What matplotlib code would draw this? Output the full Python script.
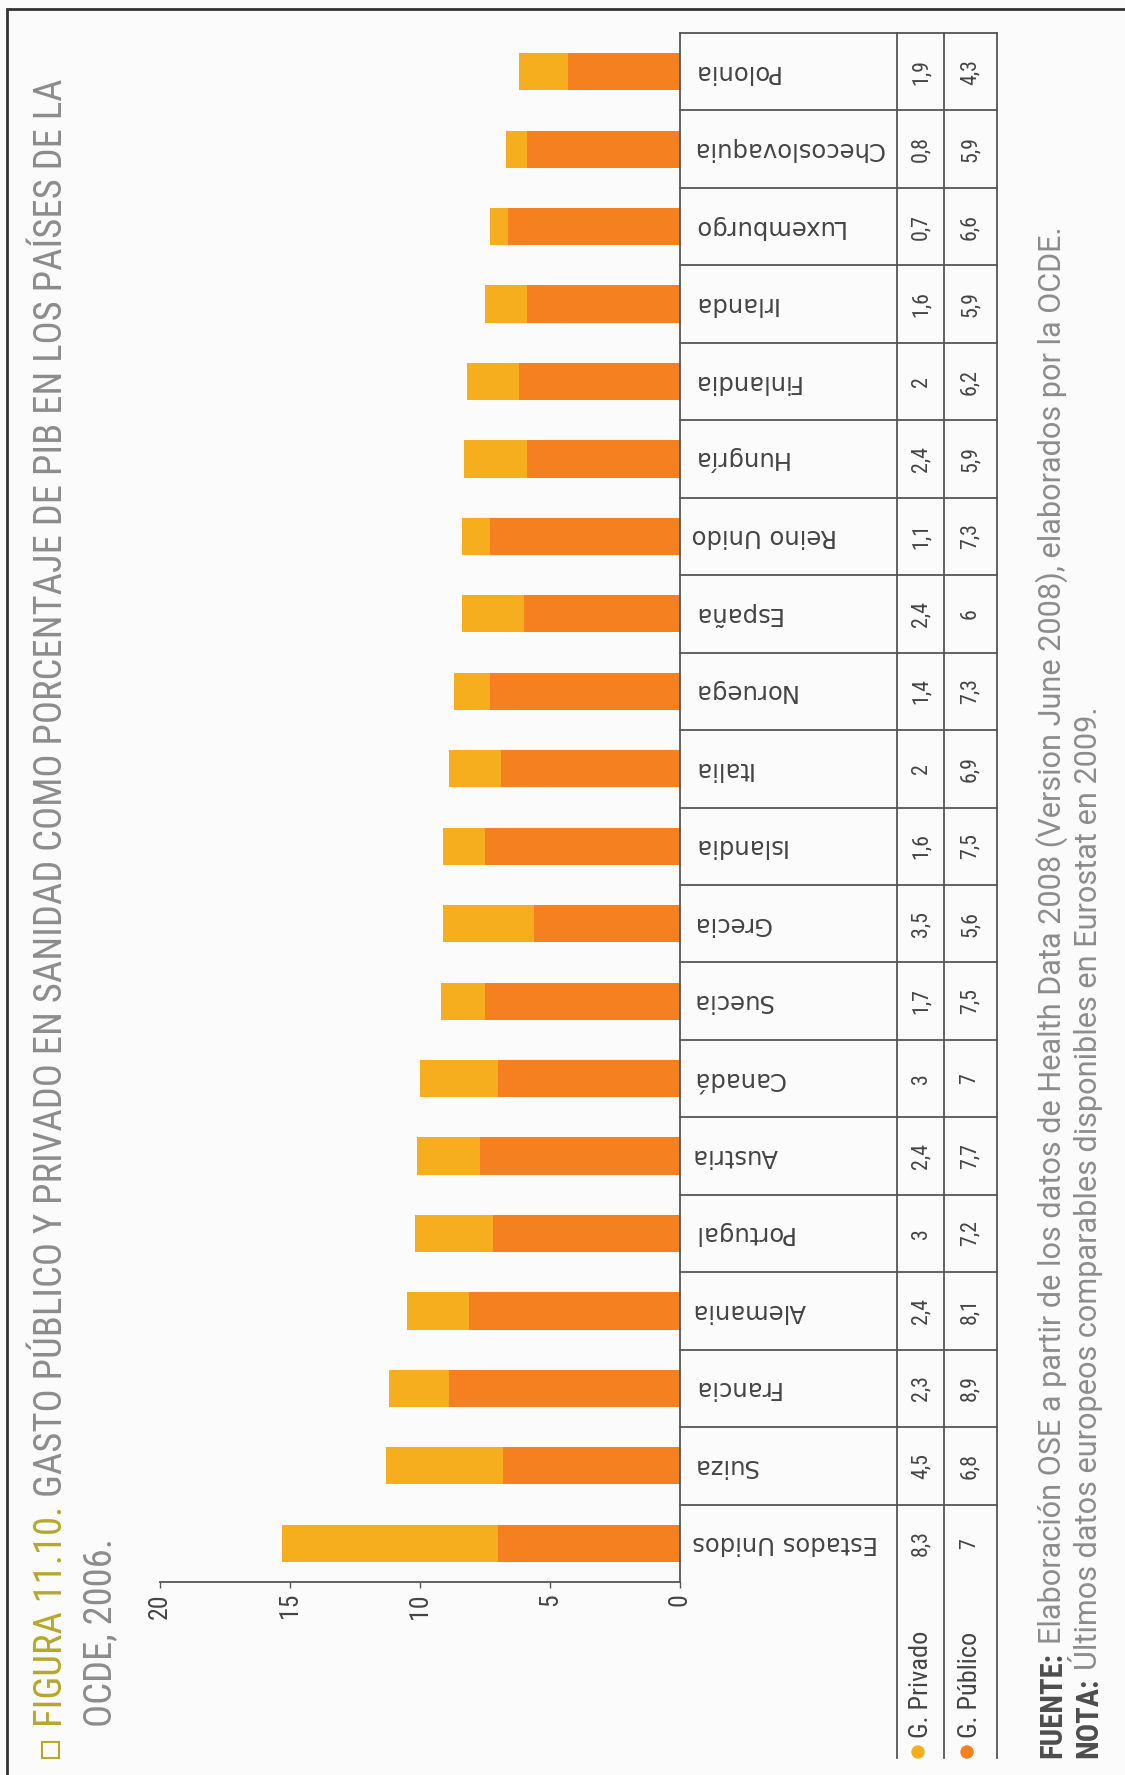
import matplotlib.pyplot as plt
from matplotlib import font_manager
from matplotlib.patches import Rectangle, Circle
from matplotlib.transforms import blended_transform_factory

# Gasto en sanidad, % del PIB (OCDE, 2006)
paises = ['Estados Unidos', 'Suiza', 'Francia', 'Alemania', 'Portugal', 'Austria',
          'Canadá', 'Suecia', 'Grecia', 'Islandia', 'Italia', 'Noruega', 'España',
          'Reino Unido', 'Hungría', 'Finlandia', 'Irlanda', 'Luxemburgo',
          'Checoslovaquia', 'Polonia']
privado = [8.3, 4.5, 2.3, 2.4, 3, 2.4, 3, 1.7, 3.5, 1.6, 2, 1.4, 2.4, 1.1, 2.4, 2, 1.6, 0.7, 0.8, 1.9]
publico = [7, 6.8, 8.9, 8.1, 7.2, 7.7, 7, 7.5, 5.6, 7.5, 6.9, 7.3, 6, 7.3, 5.9, 6.2, 5.9, 6.6, 5.9, 4.3]
ticks = [0, 5, 10, 15, 20]
series = ['G. Privado', 'G. Público']

tit1 = 'FIGURA 11.10.'
tit2 = 'GASTO PÚBLICO Y PRIVADO EN SANIDAD COMO PORCENTAJE DE PIB EN LOS PAÍSES DE LA'
tit3 = 'OCDE, 2006.'
fuente = 'Elaboración OSE a partir de los datos de Health Data 2008 (Version June 2008), elaborados por la OCDE.'
nota = 'Últimos datos europeos comparables disponibles en Eurostat en 2009.'

c_pub = '#f58020'
c_priv = '#f6ae1e'
c_olive = '#b5a82c'
c_gris = '#8c8c8c'
c_linea = '#555555'
c_texto = '#444444'

names = {f.name for f in font_manager.fontManager.ttflist}
narrow = next((n for n in ['Roboto Condensed', 'Liberation Sans Narrow'] if n in names), 'DejaVu Sans')
nf = dict(family=narrow)
rf = dict(family='Roboto')

W, H = 1125, 1775
fig = plt.figure(figsize=(W / 100, H / 100), dpi=100, facecolor='#fbfbfb')
r = fig.canvas.get_renderer()

# pixel canvas for frame, title, table and notes
bg = fig.add_axes([0, 0, 1, 1])
bg.set_xlim(0, W)
bg.set_ylim(H, 0)
bg.axis('off')


def width(s, fs, **kw):
    t = fig.text(0, 0, s, fontsize=fs, **kw)
    w = t.get_window_extent(r).width
    t.remove()
    return w


def sp(fs, **kw):
    return width('a a', fs, **kw) - width('aa', fs, **kw)


def size_for(s, length, **kw):
    return 10 * length / width(s, 10, **kw)


# bars (rotated chart: values grow to the left)
ax = fig.add_axes([160 / W, 1 - 1582 / H, 520 / W, 1549 / H])
ax.patch.set_alpha(0)
y = list(range(len(paises)))
ax.barh(y, publico, height=0.48, color=c_pub)
ax.barh(y, privado, left=publico, height=0.48, color=c_priv)
ax.set_xlim(20, 0)
ax.set_ylim(-0.5, len(paises) - 0.5)
ax.set_yticks([])
ax.set_xticks(ticks)
for s in ['left', 'top']:
    ax.spines[s].set_visible(False)
for s in ['right', 'bottom']:
    ax.spines[s].set_color(c_linea)
    ax.spines[s].set_linewidth(1.3)
ax.tick_params(axis='x', length=4, width=1, color=c_linea, pad=4, labelcolor=c_texto,
               labelrotation=90, labelsize=size_for('20', 25, **nf))
for lab in ax.get_xticklabels():
    lab.set_family(narrow)

# frame
bg.plot([7, 7, W + 5], [H + 5, 9, 9], color='#333333', lw=2, solid_joinstyle='miter')

# title
rot = dict(rotation=90, rotation_mode='anchor', ha='left', va='baseline')
fs_t = 10 * 1640 / (width(tit1, 10, **nf) + sp(10, **nf) + width(tit2, 10, **nf))
bg.add_patch(Rectangle((42, 1742), 17, 16, fill=False, ec=c_olive, lw=1.5))
bg.text(62, 1727, tit1, fontsize=fs_t, color=c_olive, **nf, **rot)
bg.text(62, 1727 - width(tit1, fs_t, **nf) - sp(fs_t, **nf), tit2, fontsize=fs_t, color=c_gris, **nf, **rot)
bg.text(111, 1727, tit3, fontsize=fs_t, color=c_gris, **nf, **rot)

# table
tr = blended_transform_factory(bg.transData, ax.transData)
for i in y:
    bg.plot([680, 997], [i + 0.5, i + 0.5], transform=tr, color=c_linea, lw=1.3)
for x in [897, 944, 997]:
    bg.plot([x, x], [33, 1758], color=c_linea, lw=1.3)

fs_p = size_for('Estados Unidos', 185)
fs_v = size_for('8,3', 26, **nf)
for i, p in enumerate(paises):
    bg.text(692, i, p, transform=tr, rotation=180, ha='left', va='center', fontsize=fs_p, color=c_texto)
    bg.text(921, i, f'{privado[i]:g}'.replace('.', ','), transform=tr, rotation=90,
            ha='center', va='center', fontsize=fs_v, color=c_texto, **nf)
    bg.text(970, i, f'{publico[i]:g}'.replace('.', ','), transform=tr, rotation=90,
            ha='center', va='center', fontsize=fs_v, color=c_texto, **nf)

fs_l = size_for('G. Privado', 107, **nf)
for x, s, c in zip([921, 970], series, [c_priv, c_pub]):
    bg.add_patch(Circle((x - 3, 1752), 6, color=c))
    bg.text(x, 1738, s, fontsize=fs_l, color=c_texto, rotation=90, rotation_mode='anchor',
            ha='left', va='center', **nf)

# source / note
bf = dict(family=narrow, weight='bold')
fs_f = 10 * 1530 / (width('FUENTE:', 10, **bf) + sp(10, **rf) + width(fuente, 10, **rf))
for xb, head, body in [(1061, 'FUENTE:', fuente), (1097, 'NOTA:', nota)]:
    bg.text(xb, 1758, head, fontsize=fs_f, color='#4d4d4d', **bf, **rot)
    bg.text(xb, 1758 - width(head, fs_f, **bf) - sp(fs_f, **rf), body, fontsize=fs_f, color=c_gris, **rf, **rot)

fig.savefig('out.png', dpi=100, facecolor=fig.get_facecolor())
